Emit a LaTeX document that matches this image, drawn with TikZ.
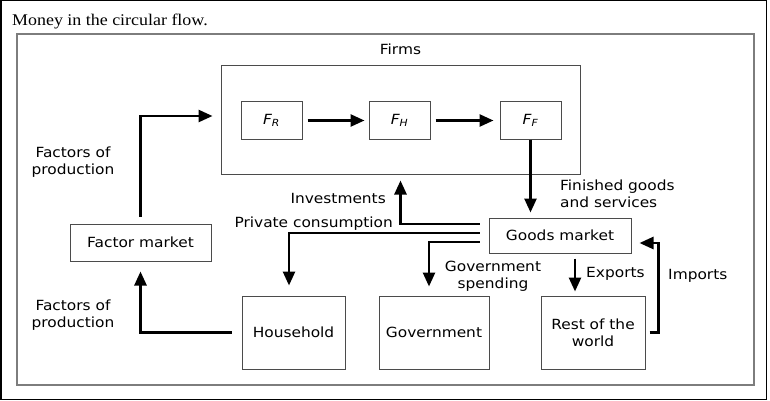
\documentclass[tikz,border=0pt]{standalone}
\usepackage{fontspec}
\setmainfont{DejaVu Sans}[FakeStretch=1.1]
\newfontfamily\titlefont{Liberation Serif}[FakeStretch=1.1]
\usetikzlibrary{arrows.meta}
\definecolor{framegray}{RGB}{125,125,125}
\definecolor{boxgray}{RGB}{75,75,75}

\begin{document}
\begin{tikzpicture}[x=1pt,y=-1pt,font=\fontsize{14pt}{17pt}\selectfont,
      box/.style={draw=boxgray,line width=1pt,inner sep=0pt,align=center},
      lbl/.style={inner sep=0pt,align=center},
      flow/.style={line width=2.6pt,-{Triangle[length=14pt,width=12pt]}}]
    \useasboundingbox (0,0) rectangle (770,401);
    \draw[line width=1.5pt] (0.75,0.75) rectangle (766.5,399.5);
    \draw[framegray,line width=1.5pt] (17,34) rectangle (754,385);
    \node[lbl,anchor=base west,font=\titlefont\fontsize{16.3pt}{19pt}\selectfont] (title) at (12,26) {Money in the circular flow.};
    % firms and the three stages
    \node[box,minimum width=359pt,minimum height=108pt,
          label={[lbl,label distance=11pt]above:Firms}] (firms) at (400.5,120) {};
    \node[box,minimum width=61pt,minimum height=37pt] (fr) at (271.5,120.5) {\itshape F\textsubscript{R}};
    \node[box,minimum width=61pt,minimum height=37pt] (fh) at (399.5,120.5) {\itshape F\textsubscript{H}};
    \node[box,minimum width=61pt,minimum height=37pt] (ff) at (530.5,120.5) {\itshape F\textsubscript{F}};
    % markets and sectors
    \node[box,minimum width=142pt,minimum height=35pt] (goods) at (560,235.5) {Goods market};
    \node[box,minimum width=141pt,minimum height=37pt] (factor) at (140.5,242.5) {Factor market};
    \node[box,minimum width=103pt,minimum height=73pt] (household) at (293.5,332.5) {Household};
    \node[box,minimum width=110pt,minimum height=73pt] (government) at (434,332.5) {Government};
    \node[box,minimum width=104pt,minimum height=73pt] (rest) at (593,332.5) {Rest of the\\world};
    \coordinate (exportstop) at ([xshift=15pt]goods.south);
    % labels
    \node[lbl,anchor=north] (lblfactorsup) at (73,146.5) {Factors of\\production};
    \node[lbl,anchor=north] (lblfactorslow) at (73,299.5) {Factors of\\production};
    \node[lbl,anchor=base east] (lblinvest) at (386,203) {Investments};
    \node[lbl,anchor=base east] (lblprivate) at (393,227) {Private consumption};
    \node[lbl,anchor=north west,align=left] (lblfinished) at (560,179.5) {Finished goods\\and services};
    \node[lbl,anchor=north] (lblgovspend) at (493,260.5) {Government\\spending};
    \node[lbl,anchor=base west] (lblexports) at (586,277) {Exports};
    \node[lbl,anchor=base west] (lblimports) at (668,279) {Imports};
    % flows
    \draw[flow,shorten <=5pt,shorten >=4pt] (fr) -- (fh);
    \draw[flow,shorten <=5pt,shorten >=6pt] (fh) -- (ff);
    \draw[flow,shorten >=5pt] (ff.south) -- (ff.south |- goods.north);
    \draw[flow,shorten <=7pt,shorten >=8pt] (factor.north) |- ([yshift=4pt]firms.west);
    \draw[flow,shorten <=10pt,shorten >=10pt] (household.west) -| (factor.south);
    \draw[flow,shorten <=9pt,shorten >=6pt] ([yshift=11.5pt]goods.west) -| (firms.south);
    \draw[flow,shorten <=9pt,shorten >=10pt] ([yshift=2.5pt]goods.west) -| ([xshift=-4.5pt]household.north);
    \draw[flow,shorten <=9pt,shorten >=9pt] ([yshift=-6.5pt]goods.west) -| ([xshift=-5pt]government.north);
    \draw[flow,shorten <=5pt,shorten >=4pt] (exportstop) -- (exportstop |- rest.north);
    \draw[flow,shorten <=4pt,shorten >=8pt] (rest.east) -- ++(13,0) |- ([yshift=-7.5pt]goods.east);
  \end{tikzpicture}
\end{document}
